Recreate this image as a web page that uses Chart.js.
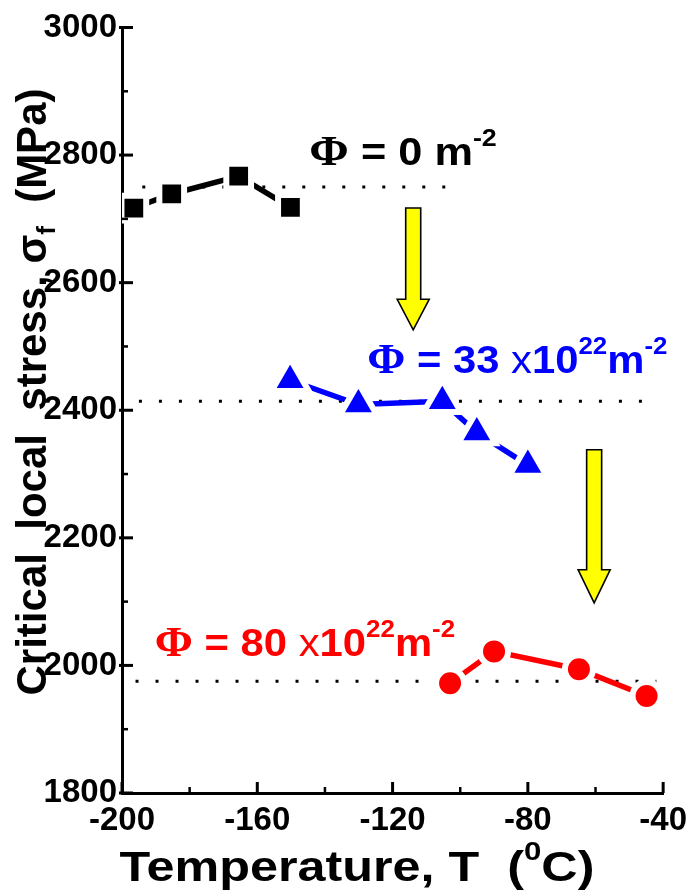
<!DOCTYPE html>
<html><head><meta charset="utf-8">
<script src="https://cdn.jsdelivr.net/npm/chart.js@4/dist/chart.umd.min.js"></script>
<style>html,body{margin:0;padding:0;background:#fff}canvas{display:block}</style>
</head><body>
<canvas id="c" width="695" height="892"></canvas>
<script>
// ---- data ----
const tempUnirr   = [-196.5, -185.3, -165.5, -150.2];
const stressUnirr = [2717, 2739, 2767, 2718];
const tempMid     = [-150.3, -130.1, -105.3, -95.1, -80.0];
const stressMid   = [2447, 2409, 2414, 2365, 2314];
const tempHigh    = [-103.0, -90.0, -64.9, -44.9];
const stressHigh  = [1972, 2022, 1994, 1952];
const meanStress  = [2750, 2414, 1975];
const meanFrom    = [-194, -195, -196];
const meanTo      = [-104, -45, -42];
const xTicks = [-200, -160, -120, -80, -40];
const yTicks = [1800, 2000, 2200, 2400, 2600, 2800, 3000];
const labelTexts = [
  [['Φ','phi'],[' = 0 m','n'],['-2','sup']],
  [['Φ','phi'],[' = 33 ','n'],['x','x'],['10','n'],['22','sup'],['m','n'],['-2','sup']],
  [['Φ','phi'],[' = 80 ','n'],['x','x'],['10','n'],['22','sup'],['m','n'],['-2','sup']]
];
const xTitle = [['Temperature, T  (','n'],['0','sup'],['C)','n']];
const yTitle = [['Critical  local  stress, ','n'],['σ','n'],['f','sub'],['  (MPa)','n']];

// ---- styles ----
const FONT = '"Liberation Sans", Arial, Helvetica, sans-serif';
const SERIF = '"Liberation Serif", "Times New Roman", serif';
const colors = ['#000000', '#0000ff', '#ff0000'];

function toPts(xs, ys){ return xs.map((x,i)=>({x:x, y:ys[i]})); }

function drawRich(ctx, parts, size, color, measureOnly){
  let cx = 0;
  for (const [t, kind] of parts){
    let fs = size, dy = 0, fam = FONT, wt = 'bold';
    if (kind === 'sup'){ fs = size*0.62; dy = -size*0.5; }
    if (kind === 'sub'){ fs = size*0.62; dy = size*0.22; }
    if (kind === 'phi'){ fam = SERIF; fs = size*1.1; }
    if (kind === 'x'){ wt = 'normal'; }
    ctx.font = wt + ' ' + fs + 'px ' + fam;
    if (!measureOnly){ ctx.fillStyle = color; ctx.fillText(t, cx, dy); }
    cx += ctx.measureText(t).width;
  }
  return cx;
}

const annotPlugin = {
  id: 'annot',
  afterDatasetsDraw(chart, args, opts){
    const ctx = chart.ctx, xs = chart.scales.x, ys = chart.scales.y;
    for (const a of opts.arrows){
      const x = xs.getPixelForValue(a.x);
      const yt = ys.getPixelForValue(a.top), yh = ys.getPixelForValue(a.head), yp = ys.getPixelForValue(a.tip);
      const sw = opts.shaftW/2, hw = opts.headW/2;
      ctx.save();
      ctx.beginPath();
      ctx.moveTo(x-sw, yt); ctx.lineTo(x+sw, yt); ctx.lineTo(x+sw, yh); ctx.lineTo(x+hw, yh);
      ctx.lineTo(x, yp); ctx.lineTo(x-hw, yh); ctx.lineTo(x-sw, yh); ctx.closePath();
      ctx.fillStyle = '#ffff00'; ctx.fill();
      ctx.lineWidth = 1.6; ctx.strokeStyle = '#000'; ctx.lineJoin='miter'; ctx.stroke();
      ctx.restore();
    }
    opts.labels.forEach((l, i)=>{
      ctx.save();
      ctx.translate(xs.getPixelForValue(l.x), ys.getPixelForValue(l.y));
      ctx.scale(l.stretch, 1);
      ctx.textBaseline = 'alphabetic'; ctx.textAlign = 'left';
      drawRich(ctx, labelTexts[i], opts.size, colors[i]);
      ctx.restore();
    });
  },
  afterDraw(chart, args, opts){
    const ctx = chart.ctx, xs = chart.scales.x, ys = chart.scales.y, ca = chart.chartArea;
    ctx.save();
    ctx.strokeStyle = '#000';
    const xv = xs.ticks.map(t=>t.value);
    xv.forEach((v,i)=>{
      const p = xs.getPixelForValue(v);
      ctx.lineWidth = 3; ctx.beginPath(); ctx.moveTo(p, ca.bottom); ctx.lineTo(p, ca.bottom-11); ctx.stroke();
      if (i < xv.length-1){
        const m = xs.getPixelForValue((v + xv[i+1])/2);
        ctx.lineWidth = 2.5; ctx.beginPath(); ctx.moveTo(m, ca.bottom); ctx.lineTo(m, ca.bottom-6); ctx.stroke();
      }
    });
    const yv = ys.ticks.map(t=>t.value);
    yv.forEach((v,i)=>{
      const p = ys.getPixelForValue(v);
      ctx.lineWidth = 3; ctx.beginPath(); ctx.moveTo(ca.left-3, p); ctx.lineTo(ca.left+11, p); ctx.stroke();
      if (i < yv.length-1){
        const m = ys.getPixelForValue((v + yv[i+1])/2);
        ctx.lineWidth = 2.5; ctx.beginPath(); ctx.moveTo(ca.left, m); ctx.lineTo(ca.left+6, m); ctx.stroke();
      }
    });
    ctx.textBaseline = 'alphabetic'; ctx.textAlign = 'left';
    ctx.save();
    let w = drawRich(ctx, xTitle, opts.xTitleSize, '#000', true);
    ctx.translate(opts.xTitleX, opts.xTitleY);
    ctx.scale(opts.xTitleStretch, 1);
    ctx.translate(-w/2, 0);
    drawRich(ctx, xTitle, opts.xTitleSize, '#000');
    ctx.restore();
    ctx.save();
    w = drawRich(ctx, yTitle, opts.yTitleSize, '#000', true);
    ctx.translate(opts.yTitleX, opts.yTitleY);
    ctx.rotate(-Math.PI/2);
    ctx.scale(opts.yTitleStretch, 1);
    ctx.translate(-w/2, 0);
    drawRich(ctx, yTitle, opts.yTitleSize, '#000');
    ctx.restore();
    ctx.restore();
  }
};

const seriesStyle = (color, style, r) => ({
  showLine: true, borderColor: color, borderWidth: 5.5, backgroundColor: color,
  pointStyle: style, pointRadius: r, pointBorderColor: '#ffffff', pointBorderWidth: 6,
  pointHoverRadius: r, tension: 0, order: 0, borderCapStyle: 'butt'
});
const meanStyle = () => ({
  showLine: true, borderColor: '#000', borderWidth: 3, borderDash: [3, 17],
  pointRadius: 0, order: 1, borderCapStyle: 'butt'
});

const datasets = [
  Object.assign({label:'Φ = 0', data: toPts(tempUnirr, stressUnirr)}, seriesStyle(colors[0], 'rect', 17.5)),
  Object.assign({label:'Φ = 33', data: toPts(tempMid, stressMid)}, seriesStyle(colors[1], 'triangle', 21.5)),
  Object.assign({label:'Φ = 80', data: toPts(tempHigh, stressHigh)}, seriesStyle(colors[2], 'circle', 14)),
];
meanStress.forEach((s, i)=>{
  datasets.push(Object.assign({label:'mean '+i, data: toPts([meanFrom[i], meanTo[i]], [s, s])}, meanStyle()));
});

const tickFont = {family: FONT, size: 33, weight: 'bold'};

new Chart(document.getElementById('c'), {
  type: 'scatter',
  data: { datasets },
  options: {
    responsive: false, animation: false, events: [],
    layout: { padding: { top: 26, right: 30, left: 0, bottom: 0 } },
    plugins: {
      legend: { display: false }, tooltip: { enabled: false },
      annot: {
        shaftW: 15, headW: 32, size: 38,
        arrows: [ {x: -113.9, top: 2717, head: 2574, tip: 2526}, {x: -60.4, top: 2338, head: 2150, tip: 2098} ],
        labels: [ {x: -144.6, y: 2784, stretch: 1.14}, {x: -127.5, y: 2459, stretch: 1.1}, {x: -190.3, y: 2014, stretch: 1.1} ],
        xTitleX: 357, xTitleY: 881, xTitleSize: 43, xTitleStretch: 1.17,
        yTitleX: 46, yTitleY: 392, yTitleSize: 42, yTitleStretch: 1.0
      }
    },
    scales: {
      x: {
        type: 'linear', min: -200, max: -40,
        afterFit(s){ s.height = 99; },
        afterBuildTicks(s){ s.ticks = xTicks.map(v=>({value: v})); },
        ticks: { font: tickFont, color: '#000', padding: 8, maxRotation: 0, autoSkip: false, callback: v => String(v) },
        grid: { display: true, drawOnChartArea: false, drawTicks: false },
        border: { display: true, color: '#000', width: 3 }
      },
      y: {
        type: 'linear', min: 1800, max: 3000,
        afterFit(s){ s.width = 122; },
        afterBuildTicks(s){ s.ticks = yTicks.map(v=>({value: v})); },
        ticks: { font: tickFont, color: '#000', padding: 5, autoSkip: false, callback: v => String(v) },
        grid: { display: true, drawOnChartArea: false, drawTicks: false },
        border: { display: true, color: '#000', width: 3 }
      }
    }
  },
  plugins: [annotPlugin]
});
</script>
</body></html>
